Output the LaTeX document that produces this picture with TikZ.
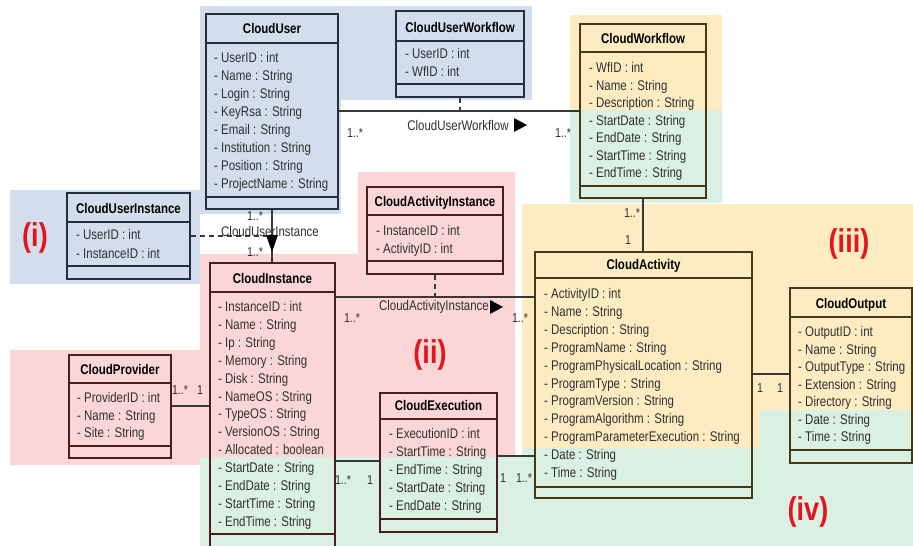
\documentclass[tikz,border=0pt]{standalone}
\usepackage{fontspec}
\setmainfont{Liberation Sans}[FakeStretch=0.82]
\usetikzlibrary{fit}
\definecolor{bgblue}{HTML}{D2DEEC}
\definecolor{bgpink}{HTML}{FBD6D6}
\definecolor{bgyellow}{HTML}{FDECC2}
\definecolor{bggreen}{HTML}{DAF0E2}
\definecolor{redl}{HTML}{E5141C}
\definecolor{txt}{HTML}{303030}
\definecolor{lin}{HTML}{383838}
\definecolor{bdblue}{HTML}{22303F}
\definecolor{bdpink}{HTML}{4A1E1E}
\definecolor{bdyel}{HTML}{463A16}
\newcommand{\UMLbox}[9]{%
  \node[box=#8, fit={(#2,#3) (#4,#5)}] (#1) {};
  \draw[draw=#8, line width=1.6pt] (#1.west |- 0,#6) -- (#1.east |- 0,#6);
  \draw[draw=#8, line width=1.6pt] (#1.west |- 0,#7) -- (#1.east |- 0,#7);
  \node[ttl] at ({(#2+#4)/2},{#6-9}) {#9};
}
\newcommand{\UMLattrs}[4]{%
  \foreach \myat [count=\i from 0] in {#4} \node[attr] at (#1,{#2+#3*\i}) {\myat};
}
\begin{document}
\begin{tikzpicture}[x=1pt,y=-1pt,
  attr/.style={anchor=base west, inner sep=0, font=\fontsize{14}{16}\selectfont, text=txt},
  ttl/.style={anchor=base, inner sep=0, font=\fontsize{14}{16}\selectfont\bfseries, text=black},
  mult/.style={inner sep=0, font=\fontsize{13}{15}\selectfont, text=txt},
  assoc/.style={inner sep=0, font=\fontsize{14}{16}\selectfont, text=txt},
  box/.style={draw=#1, line width=1.6pt, inner sep=0},
  conn/.style={draw=lin, line width=1.1pt},
  dashconn/.style={draw=lin, line width=1.1pt, dash pattern=on 5pt off 4pt},
  region/.style={inner sep=0, font=\fontsize{33}{36}\selectfont\bfseries, text=redl}]
\useasboundingbox (0,0) rectangle (913,546);
\fill[white] (0,0) rectangle (913,546);
% background regions
\fill[bgblue] (200,6) rectangle (532,100);
\fill[bgblue] (200,100) rectangle (341,214);
\fill[bgblue] (10,190) rectangle (200,284);
\fill[bgpink] (10,350) -- (200,350) -- (200,254) -- (358,254) -- (358,172) -- (515,172) -- (515,457) -- (200,457) -- (200,465) -- (10,465) -- cycle;
\fill[bgyellow] (570,15) rectangle (722,110);
\fill[bgyellow] (522,204) -- (913,204) -- (913,410) -- (760,410) -- (760,448) -- (522,448) -- cycle;
\fill[bggreen] (570,110) rectangle (722,203);
\fill[bggreen] (200,457) -- (522,457) -- (522,448) -- (760,448) -- (760,410) -- (913,410) -- (913,546) -- (200,546) -- cycle;
% classes
\UMLbox{cu}{206}{14}{338}{209}{43}{197}{bdblue}{CloudUser}
\UMLattrs{214}{62.5}{18}{- UserID : int,- Name : String,- Login : String,- KeyRsa : String,- Email : String,- Institution : String,- Position : String,- ProjectName : String}
\UMLbox{cuw}{396}{11}{524}{97}{41}{84}{bdblue}{CloudUserWorkflow}
\UMLattrs{405}{58.5}{18}{- UserID : int,- WfID : int}
\UMLbox{cw}{580}{24}{706}{198}{52}{186}{bdyel}{CloudWorkflow}
\UMLattrs{589}{72.5}{17.5}{- WfID : int,- Name : String,- Description : String,- StartDate : String,- EndDate : String,- StartTime : String,- EndTime : String}
\UMLbox{cui}{67}{193}{190}{279}{222}{266}{bdblue}{CloudUserInstance}
\UMLattrs{76}{239.5}{19}{- UserID : int,- InstanceID : int}
\UMLbox{cai}{367}{187}{503}{274}{215}{261}{bdpink}{CloudActivityInstance}
\UMLattrs{376}{235.5}{18}{- InstanceID : int,- ActivityID : int}
\UMLbox{ci}{210}{263}{335}{556}{292}{534}{bdpink}{CloudInstance}
\UMLattrs{218}{311.5}{17.9}{- InstanceID : int,- Name : String,- Ip : String,- Memory : String,- Disk : String,- NameOS : String,- TypeOS : String,- VersionOS : String,- Allocated : boolean,- StartDate : String,- EndDate : String,- StartTime : String,- EndTime : String}
\UMLbox{cp}{69}{355}{171}{458}{383}{446}{bdpink}{CloudProvider}
\UMLattrs{77}{402.5}{17.5}{- ProviderID : int,- Name : String,- Site : String}
\UMLbox{ce}{380}{393}{497}{532}{419}{519}{bdpink}{CloudExecution}
\UMLattrs{389}{438.5}{18}{- ExecutionID : int,- StartTime : String,- EndTime : String,- StartDate : String,- EndDate : String}
\UMLbox{ca}{535}{252}{752}{498}{278}{487}{bdyel}{CloudActivity}
\UMLattrs{544}{298.5}{17.9}{- ActivityID : int,- Name : String,- Description : String,- ProgramName : String,- ProgramPhysicalLocation : String,- ProgramType : String,- ProgramVersion : String,- ProgramAlgorithm : String,- ProgramParameterExecution : String,- Date : String,- Time : String}
\UMLbox{co}{790}{288}{912}{463}{317}{450}{bdyel}{CloudOutput}
\UMLattrs{798}{336.5}{17.5}{- OutputID : int,- Name : String,- OutputType : String,- Extension : String,- Directory : String,- Date : String,- Time : String}
% connectors
\draw[conn] (cu.east |- 0,111) -- (cw.west |- 0,111);
\draw[dashconn] (cuw.south) -- (cuw.south |- 0,111);
\draw[conn] (cu.south) -- (cu.south |- ci.north);
\draw[dashconn] (cui.east |- 0,236) -- (cu.south |- 0,236);
\draw[conn] (ci.east |- 0,297) -- (ca.west |- 0,297);
\draw[dashconn] (cai.south) -- (cai.south |- 0,297);
\draw[conn] (cw.south) -- (cw.south |- ca.north);
\draw[conn] (ca.east |- 0,374) -- (co.west |- 0,374);
\draw[conn] (cp.east |- 0,406) -- (ci.west |- 0,406);
\draw[conn] (ci.east |- 0,461) -- (ce.west |- 0,461);
\draw[conn] (ce.east |- 0,456) -- (ca.west |- 0,456);
% association names and direction triangles
\node[assoc] (lcuw) at (458,125) {CloudUserWorkflow};
\fill[black] (514,118) -- (514,132) -- (527,125) -- cycle;
\node[assoc] (lcui) at (270,231) {CloudUserInstance};
\fill[black] (266,235) -- (278,235) -- (272,252) -- cycle;
\node[assoc] (lcai) at (434,307) {CloudActivityInstance};
\fill[black] (490,300) -- (490,314) -- (503,307) -- cycle;
% multiplicities
\node[mult] (m1) at (355,133) {1..*};
\node[mult] (m2) at (563,133) {1..*};
\node[mult] (m3) at (255,216) {1..*};
\node[mult] (m4) at (255,252) {1..*};
\node[mult] (m5) at (352,318) {1..*};
\node[mult] (m6) at (520,318) {1..*};
\node[mult] (m7) at (632,213) {1..*};
\node[mult] (m8) at (628,240) {1};
\node[mult] (m9) at (760,388) {1};
\node[mult] (m10) at (780,388) {1};
\node[mult] (m11) at (180,390) {1..*};
\node[mult] (m12) at (200,390) {1};
\node[mult] (m13) at (343,480) {1..*};
\node[mult] (m14) at (370,480) {1};
\node[mult] (m15) at (503,478) {1};
\node[mult] (m16) at (524,478) {1..*};
% region labels
\node[region] (ri) at (35,238) {(i)};
\node[region] (rii) at (430,355) {(ii)};
\node[region] (riii) at (849,244) {(iii)};
\node[region] (riv) at (808,512) {(iv)};
\end{tikzpicture}
\end{document}
